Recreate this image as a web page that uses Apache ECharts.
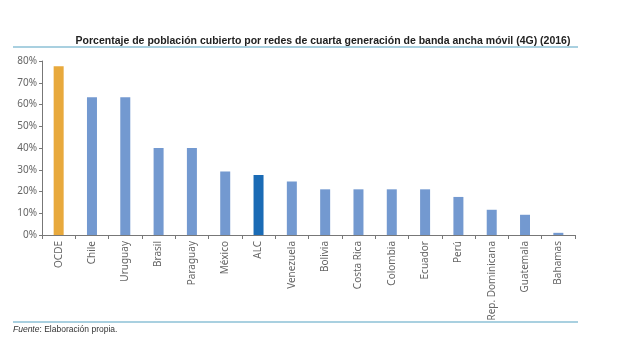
<!DOCTYPE html>
<html>
<head>
<meta charset="utf-8">
<script src="https://cdn.jsdelivr.net/npm/echarts@6/dist/echarts.min.js"></script>
<style>
  html, body { margin: 0; padding: 0; background: #fff; }
  #chart { width: 627px; height: 354px; }
</style>
</head>
<body>
<div id="chart"></div>
<script>
var paises = ['OCDE', 'Chile', 'Uruguay', 'Brasil', 'Paraguay', 'México', 'ALC', 'Venezuela',
  'Bolivia', 'Costa Rica', 'Colombia', 'Ecuador', 'Perú', 'Rep. Dominicana', 'Guatemala', 'Bahamas'];
var cobertura = [77.6, 63.3, 63.3, 40, 40, 29.2, 27.6, 24.6, 21, 21, 21, 21, 17.5, 11.6, 9.3, 1];
var yTicks = [0, 10, 20, 30, 40, 50, 60, 70, 80];

var colorBase = '#7399d0';
var colores = { 'OCDE': '#e8a93c', 'ALC': '#1a6bb5' };

var chart = echarts.init(document.getElementById('chart'));

var datos = paises.map(function (p, i) {
  return { value: cobertura[i], itemStyle: { color: colores[p] || colorBase } };
});

chart.setOption({
  animation: false,
  title: {
    text: 'Porcentaje de población cubierto por redes de cuarta generación de banda ancha móvil (4G) (2016)',
    left: 318,
    textAlign: 'center',
    top: 31,
    textStyle: { fontSize: 10.5, fontWeight: 'bold', color: '#222', fontFamily: 'Liberation Sans' }
  },
  graphic: [
    { type: 'line', shape: { x1: 13, y1: 47, x2: 578, y2: 47 }, style: { stroke: '#8cc0d6', lineWidth: 1.5 } },
    { type: 'line', shape: { x1: 13, y1: 322, x2: 578, y2: 322 }, style: { stroke: '#8cc0d6', lineWidth: 1.5 } },
    {
      type: 'text', left: 13, top: 325,
      style: {
        text: '{i|Fuente}: Elaboración propia.',
        fill: '#333', font: '8.5px Liberation Sans',
        rich: { i: { fontStyle: 'italic', fontSize: 8.5, fill: '#333', fontFamily: 'Liberation Sans' } }
      }
    }
  ],
  grid: { left: 42, right: 52, top: 61, bottom: 119 },
  xAxis: {
    type: 'category',
    data: paises,
    axisLine: { lineStyle: { color: '#777' } },
    axisTick: { show: true, length: 4, lineStyle: { color: '#777' } },
    axisLabel: { rotate: 90, color: '#666', fontSize: 10, fontFamily: 'Noto Sans', margin: 6, interval: 0 }
  },
  yAxis: {
    type: 'value',
    min: 0, max: 80, interval: 10,
    axisLine: { show: true, lineStyle: { color: '#777' } },
    axisTick: { show: true, length: 3, lineStyle: { color: '#777' } },
    splitLine: { show: false },
    axisLabel: {
      color: '#666', fontSize: 10, fontFamily: 'Noto Sans', margin: 5,
      formatter: function (v) { return yTicks.indexOf(v) >= 0 ? v + '%' : ''; }
    }
  },
  series: [{
    type: 'bar',
    data: datos,
    barWidth: 10
  }]
});
</script>
</body>
</html>
